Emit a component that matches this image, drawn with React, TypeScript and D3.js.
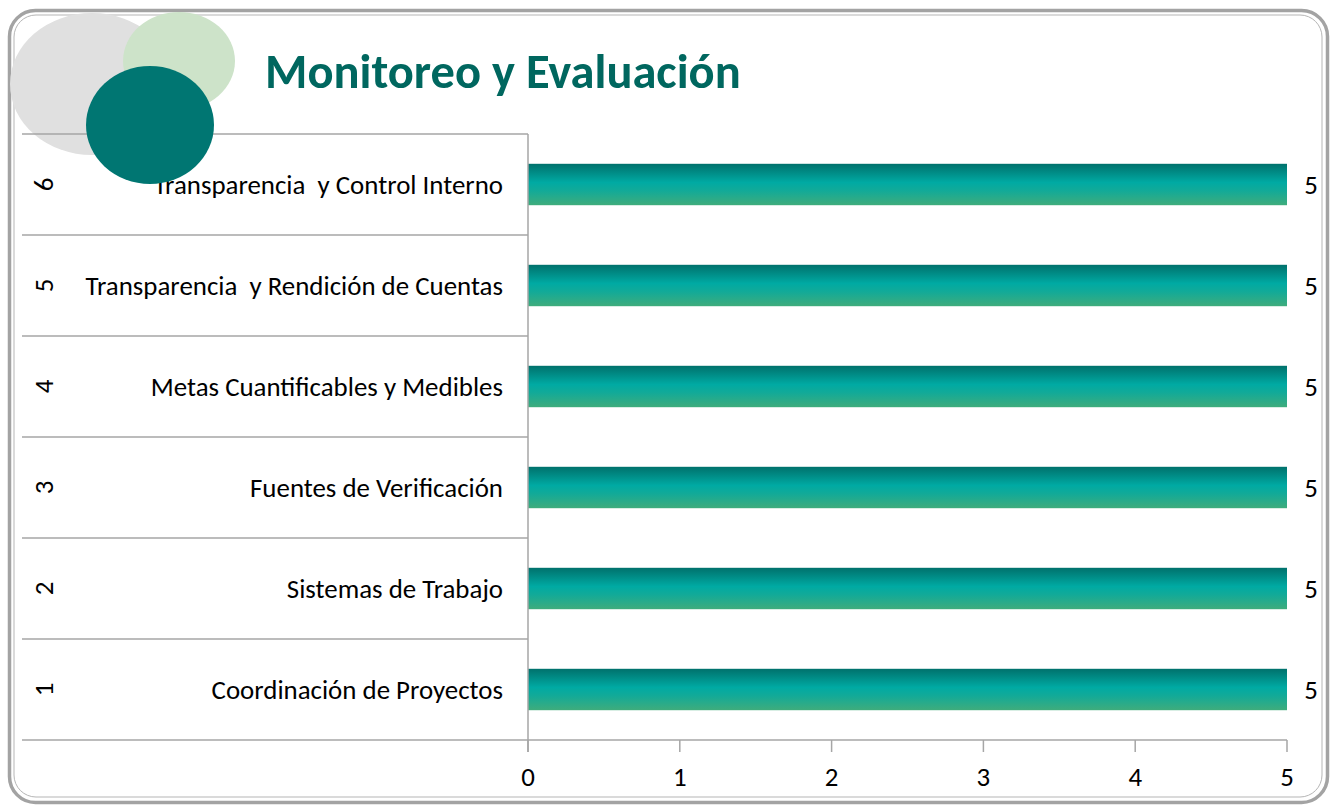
import * as React from 'react'
import * as d3 from 'd3'

// chart data
const categories = [
	'Coordinación de Proyectos',
	'Sistemas de Trabajo',
	'Fuentes de Verificación',
	'Metas Cuantificables y Medibles',
	'Transparencia  y Rendición de Cuentas',
	'Transparencia  y Control Interno',
]
const groupNumbers = ['1', '2', '3', '4', '5', '6']
const values = [5, 5, 5, 5, 5, 5]
const tickValues = [0, 1, 2, 3, 4, 5]
const title = 'Monitoreo y Evaluación'

const W = 1336
const H = 806
const dims = { left: 528, right: 1287, top: 134, bottom: 740, gridLeft: 22 }
const FONT = "Carlito, Calibri, 'Open Sans', 'Noto Sans', sans-serif"
const FS = 26.9

const App: React.FC = () => {
	const x = d3.scaleLinear().domain([0, 5]).range([dims.left, dims.right])
	const y = d3
		.scaleBand()
		.domain(d3.range(categories.length).map(String).reverse())
		.range([dims.top, dims.bottom])
		.paddingInner(0.59)
		.paddingOuter(0.295)
	const band = (dims.bottom - dims.top) / categories.length
	const sepYs = d3.range(categories.length + 1).map(i => dims.top + i * band)

	return (
		<svg width={W} height={H} style={{ position: 'absolute', left: 0, top: 0 }}>
			<defs>
				<linearGradient id="barGrad" x1="0" y1="0" x2="0" y2="1">
					<stop offset="0" stopColor="#00716c" />
					<stop offset="0.45" stopColor="#00aaa3" />
					<stop offset="0.65" stopColor="#12aa98" />
					<stop offset="1" stopColor="#3fac7c" />
				</linearGradient>
			</defs>
			<rect x={0} y={0} width={W} height={H} fill="#fff" />
			{/* frame */}
			<rect x={9.5} y={10.5} width={1318} height={792} rx={26} fill="none" stroke="#a3a3a3" strokeWidth={3.5} />
			<rect x={14} y={15} width={1308} height={782} rx={22} fill="none" stroke="#b5b5b5" strokeWidth={1} />

			{/* decorative circles (back) */}
			<ellipse cx={92} cy={84} rx={82} ry={71} fill="#e0e0e0" />
			<ellipse cx={179} cy={61} rx={56} ry={49} fill="#cde3c9" />

			{/* category separators */}
			{sepYs.map((sy, i) => (
				<line key={i} x1={dims.gridLeft} x2={dims.left} y1={sy} y2={sy} stroke="#a6a6a6" strokeWidth={1.5} />
			))}

			{/* bars */}
			{values.map((v, i) => (
				<rect
					key={i}
					x={x(0)}
					y={y(String(i))!}
					width={x(v) - x(0)}
					height={y.bandwidth()}
					fill="url(#barGrad)"
				/>
			))}

			{/* value axis */}
			<line x1={dims.left} x2={dims.right} y1={dims.bottom} y2={dims.bottom} stroke="#a6a6a6" strokeWidth={1.5} />
			<line x1={dims.left} x2={dims.left} y1={dims.top} y2={dims.bottom + 12} stroke="#a6a6a6" strokeWidth={1.5} />
			{tickValues.map(t => (
				<g key={t}>
					<line x1={x(t)} x2={x(t)} y1={dims.bottom} y2={dims.bottom + 12} stroke="#a6a6a6" strokeWidth={1.5} />
					<text x={x(t)} y={786} textAnchor="middle" fontFamily={FONT} fontSize={FS} fill="#000">
						{t}
					</text>
				</g>
			))}

			{/* category labels */}
			{categories.map((c, i) => {
				const cy = y(String(i))! + y.bandwidth() / 2
				return (
					<g key={c}>
						<text
							x={503}
							y={cy + 9}
							textAnchor="end"
							fontFamily={FONT}
							fontSize={FS}
							fill="#000"
							style={{ whiteSpace: 'pre' }}
						>
							{c}
						</text>
						<text
							transform={`translate(53,${cy}) rotate(-90)`}
							textAnchor="middle"
							fontFamily={FONT}
							fontSize={FS}
							fill="#000"
						>
							{groupNumbers[i]}
						</text>
						<text x={1311} y={cy + 9} textAnchor="middle" fontFamily={FONT} fontSize={FS} fill="#000">
							{values[i]}
						</text>
					</g>
				)
			})}

			{/* decorative circle (front) */}
			<ellipse cx={150} cy={125} rx={64} ry={59} fill="#007672" />

			<text x={265} y={88} fontFamily={FONT} fontSize={48.5} fontWeight="bold" fill="#00675f">
				{title}
			</text>
		</svg>
	)
}

export default App
